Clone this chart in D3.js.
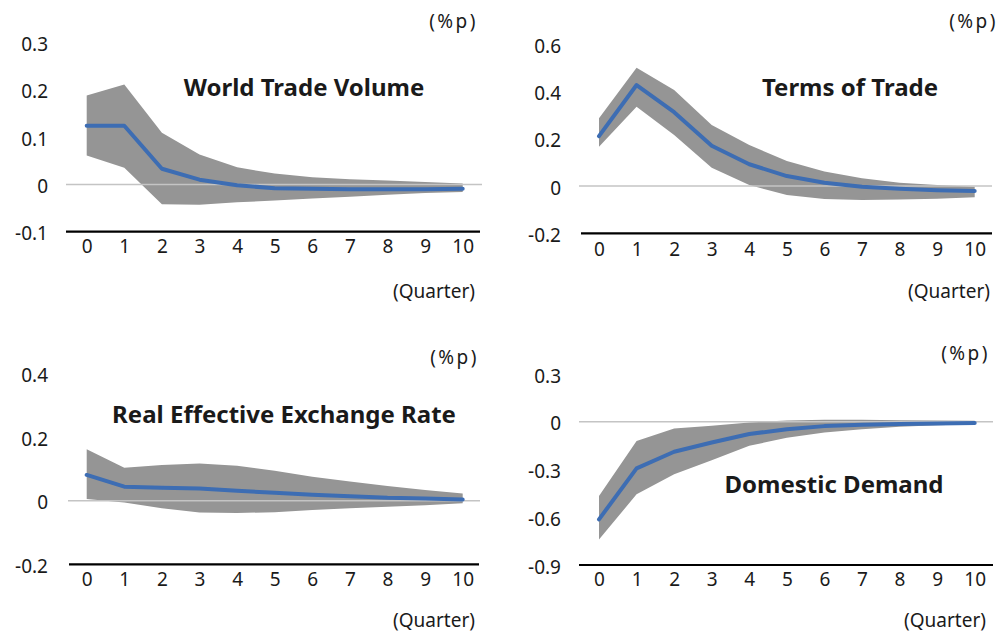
<!DOCTYPE html>
<html>
<head>
<meta charset="utf-8">
<style>
body { margin: 0; background: #fff; }
text { font-family: "Noto Sans", sans-serif; fill: #1a1a1a; }
.tick text { font-size: 19px; }
.title { font-size: 24px; font-weight: bold; }
.unit { font-size: 19px; }
.pct { font-size: 19px; letter-spacing: 2.5px; }
path.band { fill: #959595; stroke: none; }
path.line { fill: none; stroke: #3d6db3; stroke-width: 4px; stroke-linecap: round; stroke-linejoin: round; }
</style>
</head>
<body>
<script src="https://cdn.jsdelivr.net/npm/d3@7"></script>
<script>

var quarters = [0, 1, 2, 3, 4, 5, 6, 7, 8, 9, 10];

// World Trade Volume
var wtvMid   = [0.124, 0.124, 0.033, 0.010, -0.002, -0.008, -0.009, -0.010, -0.010, -0.010, -0.009];
var wtvUpper = [0.188, 0.211, 0.109, 0.063, 0.036, 0.023, 0.015, 0.011, 0.008, 0.005, 0.002];
var wtvLower = [0.061, 0.035, -0.042, -0.043, -0.038, -0.034, -0.030, -0.026, -0.022, -0.018, -0.016];
var wtvTicks = [-0.1, 0, 0.1, 0.2, 0.3];

// Terms of Trade
var totMid   = [0.211, 0.427, 0.312, 0.170, 0.092, 0.042, 0.014, -0.003, -0.012, -0.018, -0.021];
var totUpper = [0.286, 0.500, 0.406, 0.258, 0.173, 0.106, 0.061, 0.033, 0.014, 0.004, -0.003];
var totLower = [0.166, 0.335, 0.216, 0.077, 0.004, -0.038, -0.055, -0.059, -0.057, -0.054, -0.048];
var totTicks = [-0.2, 0, 0.2, 0.4, 0.6];

// Real Effective Exchange Rate
var reerMid   = [0.081, 0.044, 0.041, 0.038, 0.031, 0.025, 0.019, 0.014, 0.009, 0.007, 0.004];
var reerUpper = [0.162, 0.104, 0.112, 0.117, 0.110, 0.094, 0.075, 0.060, 0.046, 0.034, 0.023];
var reerLower = [0.005, -0.006, -0.024, -0.037, -0.039, -0.036, -0.029, -0.024, -0.019, -0.014, -0.008];
var reerTicks = [-0.2, 0, 0.2, 0.4];

// Domestic Demand
var ddMid   = [-0.613, -0.293, -0.188, -0.130, -0.077, -0.046, -0.027, -0.019, -0.013, -0.010, -0.008];
var ddUpper = [-0.466, -0.121, -0.042, -0.025, -0.004, 0.008, 0.013, 0.013, 0.010, 0.008, 0.006];
var ddLower = [-0.739, -0.456, -0.329, -0.241, -0.151, -0.100, -0.067, -0.046, -0.031, -0.021, -0.015];
var ddTicks = [-0.9, -0.6, -0.3, 0, 0.3];

var width = 997, height = 634;

var svg = d3.select("body").append("svg")
    .attr("width", width)
    .attr("height", height);

var panels = [
  { title: "World Trade Volume", mid: wtvMid, up: wtvUpper, lo: wtvLower, ticks: wtvTicks,
    xr: [86.7, 462.7], yr: [231.7, 42.5], labX: 48, axis: [66, 480], zero: [66, 482],
    xLabY: 252, titleX: 304, titleY: 96, unitX: 476, unitY: 21, qX: 475, qY: 291 },
  { title: "Terms of Trade", mid: totMid, up: totUpper, lo: totLower, ticks: totTicks,
    xr: [599, 974.7], yr: [233.3, 44.1], labX: 561, axis: [581, 992], zero: [579, 992],
    xLabY: 255, titleX: 850, titleY: 96, unitX: 996, unitY: 21, qX: 990, qY: 291 },
  { title: "Real Effective Exchange Rate", mid: reerMid, up: reerUpper, lo: reerLower, ticks: reerTicks,
    xr: [86.7, 462.7], yr: [564.3, 373.5], labX: 48, axis: [69, 479], zero: [68, 480],
    xLabY: 585, titleX: 284, titleY: 423, unitX: 477, unitY: 357, qX: 475, qY: 620 },
  { title: "Domestic Demand", mid: ddMid, up: ddUpper, lo: ddLower, ticks: ddTicks,
    xr: [599, 974.7], yr: [565, 374.1], labX: 561, axis: [579, 993], zero: [579, 993],
    xLabY: 585, titleX: 834, titleY: 493, unitX: 988, unitY: 353, qX: 986, qY: 620 }
];

panels.forEach(function(p) {
  var x = d3.scaleLinear().domain([0, 10]).range(p.xr);
  var y = d3.scaleLinear().domain([p.ticks[0], p.ticks[p.ticks.length - 1]]).range(p.yr);
  var g = svg.append("g");

  // confidence band
  var area = d3.area()
      .x(function(d) { return x(d); })
      .y0(function(d, i) { return y(p.lo[i]); })
      .y1(function(d, i) { return y(p.up[i]); });
  g.append("path").attr("class", "band").attr("d", area(quarters));

  // zero line
  g.append("line")
      .attr("x1", p.zero[0]).attr("x2", p.zero[1])
      .attr("y1", y(0)).attr("y2", y(0))
      .attr("stroke", "#c4c4c4").attr("stroke-width", 1.5);

  // bottom axis line
  g.append("line")
      .attr("x1", p.axis[0]).attr("x2", p.axis[1])
      .attr("y1", p.yr[0]).attr("y2", p.yr[0])
      .attr("stroke", "#000").attr("stroke-width", 2.2);

  // impulse response
  var line = d3.line()
      .x(function(d) { return x(d); })
      .y(function(d, i) { return y(p.mid[i]); });
  g.append("path").attr("class", "line").attr("d", line(quarters));

  // y ticks (plain hyphen minus like the original)
  var yAxis = d3.axisLeft(y).tickValues(p.ticks).tickSize(0).tickPadding(0)
      .tickFormat(function(d) { return String(+d.toFixed(1)); });
  var ya = g.append("g").attr("transform", "translate(" + p.labX + ",2)").call(yAxis);
  ya.select(".domain").remove();
  ya.selectAll("text").attr("fill", "#1a1a1a").style("font-family", "Noto Sans");

  // x ticks
  var xAxis = d3.axisBottom(x).tickValues(quarters).tickSize(0).tickPadding(0);
  var xa = g.append("g").attr("transform", "translate(0," + (p.xLabY - 13) + ")").call(xAxis);
  xa.select(".domain").remove();
  xa.selectAll("text").attr("fill", "#1a1a1a").style("font-family", "Noto Sans");

  g.append("text").attr("class", "title")
      .attr("x", p.titleX).attr("y", p.titleY)
      .attr("text-anchor", "middle")
      .text(p.title);

  g.append("text").attr("class", "pct")
      .attr("x", p.unitX + 2).attr("y", p.unitY).attr("dy", "0.35em")
      .attr("text-anchor", "end")
      .text("(%p)");

  g.append("text").attr("class", "unit")
      .attr("x", p.qX).attr("y", p.qY).attr("dy", "0.35em")
      .attr("text-anchor", "end")
      .text("(Quarter)");
});

</script>
</body>
</html>
